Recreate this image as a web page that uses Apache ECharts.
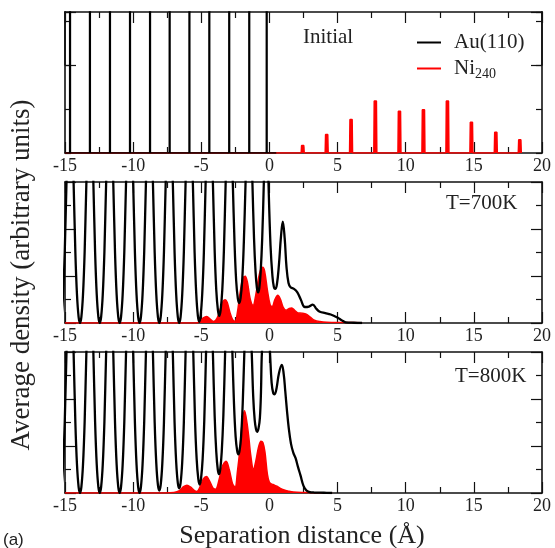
<!DOCTYPE html>
<html>
<head>
<meta charset="utf-8">
<script src="https://cdn.jsdelivr.net/npm/echarts@6/dist/echarts.min.js"></script>
<style>html,body{margin:0;padding:0;background:#fff}#c{width:555px;height:548px}</style>
</head>
<body>
<div id="c"></div>
<script>
// ---------- data ----------
const panelLabels = ['Initial', 'T=700K', 'T=800K'];
const seriesNames = ['Au(110)', 'Ni240'];

// Initial configuration: positions of the Au(110) layer planes (very sharp peaks)
const auInitialPeaks = [-14.63, -13.17, -11.70, -10.23, -8.76, -7.32, -5.87, -4.41, -2.95, -1.48, -0.20];
// Initial configuration: Ni240 layer planes and their heights
const niInitialPeaks = [2.45, 4.21, 6.0, 7.78, 9.55, 11.31, 13.07, 14.83, 16.62, 18.38];
const niInitialHeights = [0.17, 0.42, 0.76, 1.18, 0.95, 0.98, 1.18, 0.70, 0.47, 0.30];

// T = 700 K
const au700 = [
[-15.36,0],[-15.26,0.25],[-15.14,1.2],[-15.02,3.0],[-14.89,6],[-14.63,11],
[-14.37,6],[-14.24,3.0],[-14.12,1.2],[-14.0,0.25],[-13.9,0],[-13.8,0.25],[-13.68,1.2],[-13.56,3.0],[-13.43,6],[-13.17,11],
[-12.92,6],[-12.79,3.0],[-12.67,1.2],[-12.55,0.25],[-12.45,0],[-12.35,0.25],[-12.23,1.2],[-12.11,3.0],[-11.98,6],[-11.72,11],
[-11.46,6],[-11.33,3.0],[-11.21,1.2],[-11.09,0.25],[-10.99,0],[-10.89,0.25],[-10.77,1.2],[-10.65,3.0],[-10.52,6],[-10.26,11],
[-10.0,6],[-9.87,3.0],[-9.75,1.2],[-9.63,0.25],[-9.53,0],[-9.43,0.25],[-9.31,1.2],[-9.19,3.0],[-9.06,6],[-8.80,11],
[-8.55,6],[-8.42,3.0],[-8.30,1.2],[-8.18,0.25],[-8.08,0],[-7.98,0.25],[-7.86,1.2],[-7.74,3.0],[-7.61,6],[-7.35,11],
[-7.09,6],[-6.96,3.0],[-6.84,1.2],[-6.72,0.25],[-6.62,0],[-6.52,0.25],[-6.40,1.2],[-6.28,3.0],[-6.15,6],[-5.89,11],
[-5.62,6],[-5.49,3.0],[-5.37,1.25],[-5.25,0.3],[-5.15,0.05],[-5.05,0.3],[-4.93,1.25],[-4.81,3.0],[-4.68,6],[-4.42,11],
[-4.15,6],[-4.02,3.1],[-3.90,1.4],[-3.78,0.55],[-3.68,0.3],[-3.58,0.55],[-3.46,1.4],[-3.34,3.1],[-3.21,6],[-2.95,11],
[-2.69,6],[-2.56,3.4],[-2.44,1.8],[-2.32,1.05],[-2.22,0.85],[-2.12,1.05],[-2.00,1.8],[-1.88,3.4],[-1.75,6],[-1.50,11],
[-1.25,6],[-1.13,3.6],[-1.02,2.2],[-0.92,1.5],[-0.83,1.3],[-0.74,1.5],[-0.64,2.2],[-0.53,3.6],[-0.41,6],[-0.24,10],
[-0.07,6],[0.08,3.3],[0.22,2.0],[0.32,1.55],[0.42,1.45],[0.55,1.65],[0.70,2.5],[0.85,3.7],[0.98,4.31],
[1.12,3.6],[1.25,2.4],[1.40,1.7],[1.55,1.52],[1.80,1.45],[2.05,1.3],[2.30,1.0],[2.60,0.68],[2.90,0.70],[3.18,0.78],
[3.45,0.60],[3.70,0.48],[4.10,0.42],[4.50,0.36],[4.99,0.23],[5.30,0.12],[5.60,0.03],[6.20,0.01],[6.80,0]
];
const ni700 = [
[-15,0],[-5.4,0],[-5.1,0.06],[-4.85,0.22],[-4.6,0.28],[-4.35,0.17],[-4.1,0.06],[-3.85,0.2],[-3.6,0.6],[-3.4,0.92],
[-3.25,0.99],[-3.1,0.88],[-2.9,0.45],[-2.7,0.14],[-2.52,0.07],[-2.35,0.45],[-2.15,1.3],[-1.95,1.9],[-1.78,1.99],[-1.62,1.75],
[-1.42,1.05],[-1.2,0.75],[-1.0,1.2],[-0.8,1.9],[-0.62,2.32],[-0.49,2.37],[-0.35,2.2],[-0.15,1.4],[0.05,0.78],[0.2,0.7],
[0.4,1.0],[0.61,1.18],[0.8,1.02],[1.0,0.68],[1.23,0.54],[1.45,0.62],[1.64,0.64],[1.85,0.54],[2.1,0.43],[2.4,0.42],
[2.7,0.38],[3.0,0.25],[3.3,0.12],[3.7,0.06],[4.2,0.03],[5.0,0.02],[6.0,0.02],[6.8,0.01]
];

// T = 800 K
const au800 = [
[-15.36,0],[-15.26,0.25],[-15.14,1.2],[-15.02,3.0],[-14.89,6],[-14.63,11],
[-14.37,6],[-14.24,3.0],[-14.12,1.2],[-14.0,0.25],[-13.9,0],[-13.8,0.25],[-13.68,1.2],[-13.56,3.0],[-13.43,6],[-13.17,11],
[-12.92,6],[-12.79,3.0],[-12.67,1.2],[-12.55,0.25],[-12.45,0],[-12.35,0.25],[-12.23,1.2],[-12.11,3.0],[-11.98,6],[-11.72,11],
[-11.46,6],[-11.33,3.0],[-11.21,1.2],[-11.09,0.25],[-10.99,0],[-10.89,0.25],[-10.77,1.2],[-10.65,3.0],[-10.52,6],[-10.26,11],
[-10.0,6],[-9.87,3.0],[-9.75,1.2],[-9.63,0.25],[-9.53,0],[-9.43,0.25],[-9.31,1.2],[-9.19,3.0],[-9.06,6],[-8.80,11],
[-8.55,6],[-8.42,3.0],[-8.30,1.25],[-8.18,0.33],[-8.08,0.1],[-7.98,0.33],[-7.86,1.25],[-7.74,3.0],[-7.61,6],[-7.35,11],
[-7.09,6],[-6.96,3.0],[-6.84,1.3],[-6.72,0.42],[-6.62,0.2],[-6.52,0.42],[-6.40,1.3],[-6.28,3.0],[-6.15,6],[-5.89,11],
[-5.59,6],[-5.46,3.1],[-5.34,1.45],[-5.22,0.6],[-5.12,0.36],[-5.02,0.6],[-4.90,1.45],[-4.78,3.1],[-4.65,6],[-4.40,11],
[-4.15,6],[-4.02,3.3],[-3.90,1.75],[-3.79,1.0],[-3.70,0.8],[-3.61,1.0],[-3.50,1.75],[-3.38,3.3],[-3.25,6],[-3.0,11],
[-2.72,6],[-2.60,3.8],[-2.48,2.4],[-2.37,1.8],[-2.28,1.64],[-2.19,1.8],[-2.08,2.4],[-1.96,3.8],[-1.84,6],[-1.58,10],
[-1.30,6],[-1.19,4.1],[-1.08,3.1],[-0.98,2.7],[-0.90,2.6],[-0.80,2.75],[-0.70,3.2],[-0.62,4.3],[-0.55,6],[-0.25,9],
[0.04,6],[0.16,4.7],[0.28,4.25],[0.38,4.2],[0.52,4.45],[0.70,5.1],[0.91,5.45],[1.05,5.05],[1.16,4.35],[1.28,3.55],
[1.42,2.75],[1.58,2.1],[1.75,1.72],[1.92,1.48],[2.10,1.1],[2.28,0.75],[2.50,0.3],[2.70,0.12],[2.90,0.05],[3.30,0.02],
[4.00,0.01],[4.60,0]
];
const ni800 = [
[-15,0],[-7.7,0],[-7.0,0.02],[-6.6,0.1],[-6.3,0.27],[-6.05,0.33],[-5.8,0.26],[-5.5,0.1],[-5.33,0.06],[-5.1,0.25],
[-4.85,0.6],[-4.62,0.7],[-4.4,0.52],[-4.15,0.22],[-3.95,0.16],[-3.7,0.55],[-3.45,1.15],[-3.18,1.35],[-2.95,1.0],[-2.7,0.38],
[-2.52,0.25],[-2.35,0.9],[-2.15,1.95],[-2.0,3.0],[-1.83,3.5],[-1.65,3.0],[-1.5,2.3],[-1.37,1.6],[-1.17,1.0],[-1.0,1.35],
[-0.8,1.95],[-0.62,2.2],[-0.48,2.15],[-0.33,1.75],[-0.15,0.8],[0.0,0.45],[0.25,0.36],[0.55,0.29],[0.8,0.2],[1.03,0.14],
[1.4,0.08],[1.76,0.04],[2.5,0.02],[3.5,0.01],[4.6,0]
];

// ---------- build ----------
const SERIF = '"Liberation Serif", "Times New Roman", serif';
const AXC = '#111';
const TOP_MAX = 3.2;
const PX_PER_UNIT_TOP = 141 / TOP_MAX;

// sharp layer peaks of the initial structure, built from the peak positions
const auInitialData = [[-15, 0]];
auInitialPeaks.forEach(p => { auInitialData.push([p - 0.025, 0], [p, 40], [p + 0.025, 0]); });
auInitialData.push([0.5, 0]);
const niInitialData = [[-15, 0]];
niInitialPeaks.forEach((p, i) => {
  const h = niInitialHeights[i];
  niInitialData.push([p - 0.12, 0], [p - 0.09, h], [p + 0.07, h], [p + 0.1, 0]);
});

const gridTops = [12, 182, 352];
const grids = gridTops.map(t => ({ left: 65, top: t, width: 477, height: 141 }));
// overlay grid covering the top panel from y=2 to the top: carries the longer tick at 2
grids.push({ left: 65, top: 12, width: 477, height: (TOP_MAX - 2) * PX_PER_UNIT_TOP });

const xAxes = [];
gridTops.forEach((t, i) => {
  ['bottom', 'top'].forEach(pos => {
    xAxes.push({
      gridIndex: i, type: 'value', min: -15, max: 20, interval: 5, position: pos,
      axisLine: { show: true, onZero: false, lineStyle: { color: AXC, width: 1.6 } },
      axisTick: { show: true, inside: true, length: 11, lineStyle: { color: AXC, width: 1.2 } },
      minorTick: { show: true, splitNumber: 2, length: 6, lineStyle: { color: AXC, width: 1.2 } },
      splitLine: { show: false }, minorSplitLine: { show: false },
      axisLabel: pos === 'bottom'
        ? { show: true, margin: 4, fontFamily: SERIF, fontSize: 18, color: '#222' }
        : { show: false }
    });
  });
});
xAxes.push({ gridIndex: 3, type: 'value', min: -15, max: 20, show: false });

const yAxes = [];
// top panel: ticks at 1, 2, 3
['left', 'right'].forEach(pos => {
  yAxes.push({
    gridIndex: 0, type: 'value', min: 0, max: TOP_MAX, interval: 1, position: pos,
    axisLine: { show: true, onZero: false, lineStyle: { color: AXC, width: 1.6 } },
    axisTick: { show: true, inside: true, length: 6, lineStyle: { color: AXC, width: 1.2 } },
    axisLabel: { show: false }, splitLine: { show: false }
  });
});
[1, 2].forEach(g => {
  ['left', 'right'].forEach(pos => {
    yAxes.push({
      gridIndex: g, type: 'value', min: 0, max: 6, interval: 2, position: pos,
      axisLine: { show: true, onZero: false, lineStyle: { color: AXC, width: 1.6 } },
      axisTick: { show: true, inside: true, length: 11, lineStyle: { color: AXC, width: 1.2 } },
      minorTick: { show: true, splitNumber: 2, length: 6, lineStyle: { color: AXC, width: 1.2 } },
      axisLabel: { show: false }, splitLine: { show: false }, minorSplitLine: { show: false }
    });
  });
});
// longer tick at 2 of the top panel (overlay grid)
['left', 'right'].forEach(pos => {
  yAxes.push({
    gridIndex: 3, type: 'value', min: 2, max: TOP_MAX, interval: 2, position: pos,
    axisLine: { show: true, onZero: false, lineStyle: { color: AXC, width: 1.6 } },
    axisTick: { show: true, inside: true, length: 11, lineStyle: { color: AXC, width: 1.2 } },
    axisLabel: { show: false }, splitLine: { show: false }
  });
});

function auSeries(data, xi, yi, smooth, width) {
  return { name: seriesNames[0], type: 'line', xAxisIndex: xi, yAxisIndex: yi, data: data,
    showSymbol: false, symbol: 'none', smooth: smooth, clip: true, z: 3,
    lineStyle: { color: '#000', width: width }, itemStyle: { color: '#000' } };
}
function niSeries(data, xi, yi, smooth) {
  return { name: seriesNames[1], type: 'line', xAxisIndex: xi, yAxisIndex: yi, data: data,
    showSymbol: false, symbol: 'none', smooth: smooth, clip: true, z: 2,
    lineStyle: { color: '#ff0000', width: 1.5 }, itemStyle: { color: '#ff0000' },
    areaStyle: { color: '#ff0000', opacity: 1 } };
}

// y-axis indices: 0,1 top; 2,3 middle; 4,5 bottom; 6,7 overlay
const series = [
  auSeries(auInitialData, 0, 0, false, 1.6),
  niSeries(niInitialData, 0, 0, false),
  niSeries(ni700, 2, 2, 0.35),
  auSeries(au700, 2, 2, 0.4, 2.3),
  niSeries(ni800, 4, 4, 0.35),
  auSeries(au800, 4, 4, 0.4, 2.3)
];

const chart = echarts.init(document.getElementById('c'), null, { renderer: 'canvas' });
chart.setOption({
  animation: false,
  backgroundColor: '#fff',
  grid: grids,
  xAxis: xAxes,
  yAxis: yAxes,
  legend: {
    data: seriesNames, orient: 'vertical', left: 412, top: 27, itemGap: 5,
    icon: 'rect', itemWidth: 24, itemHeight: 2, selectedMode: false,
    formatter: n => n === 'Ni240' ? 'Ni{sub|240}' : n,
    textStyle: { fontFamily: SERIF, fontSize: 21, color: '#222', padding: [0, 0, 0, 8],
      rich: { sub: { fontFamily: SERIF, fontSize: 14, color: '#222', padding: [12, 0, 0, 0] } } }
  },
  graphic: [
    { type: 'text', left: 303, top: 27, style: { text: panelLabels[0], font: '21px ' + SERIF, fill: '#222' } },
    { type: 'text', left: 446, top: 193, style: { text: panelLabels[1], font: '21px ' + SERIF, fill: '#222' } },
    { type: 'text', left: 455, top: 366, style: { text: panelLabels[2], font: '21px ' + SERIF, fill: '#222' } },
    { type: 'text', x: 302, y: 536, style: { text: 'Separation distance (Å)', font: '26px ' + SERIF, fill: '#222', align: 'center', verticalAlign: 'middle' } },
    { type: 'text', x: 22, y: 275, rotation: Math.PI / 2, style: { text: 'Average density (arbitrary units)', font: '27px ' + SERIF, fill: '#222', align: 'center', verticalAlign: 'middle' } },
    { type: 'text', x: 3, y: 540, style: { text: '(a)', font: '17px "Liberation Sans", Arial, sans-serif', fill: '#222', align: 'left', verticalAlign: 'middle' } }
  ],
  series: series
});
</script>
</body>
</html>
